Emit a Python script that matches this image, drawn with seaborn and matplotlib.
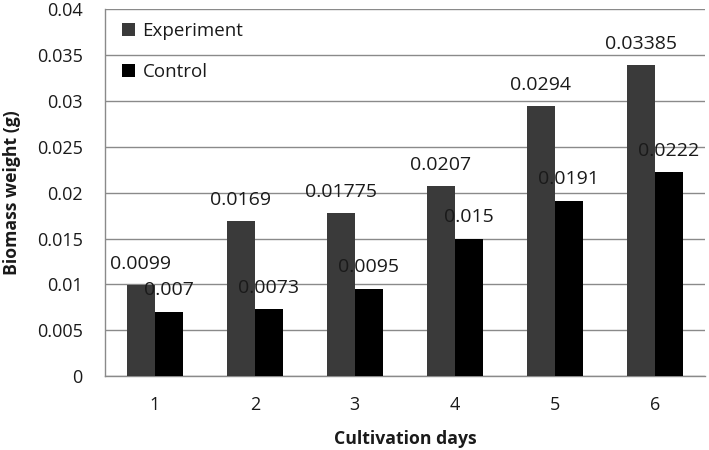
import numpy as np
import pandas as pd
import matplotlib
matplotlib.use("Agg")
import matplotlib.pyplot as plt
import seaborn as sns
from matplotlib.ticker import FixedLocator, FuncFormatter

# Values
days = ["1", "2", "3", "4", "5", "6"]
experiment = [0.0099, 0.0169, 0.01775, 0.0207, 0.0294, 0.03385]
control = [0.007, 0.0073, 0.0095, 0.015, 0.0191, 0.0222]
groups = ["Experiment", "Control"]
y_ticks = [0, 0.005, 0.01, 0.015, 0.02, 0.025, 0.03, 0.035, 0.04]

df = pd.DataFrame({
    "day": days * 2,
    "weight": experiment + control,
    "group": [groups[0]] * len(days) + [groups[1]] * len(days),
})

sns.set_style("white")
plt.rcParams["font.family"] = ["Open Sans", "DejaVu Sans"]
txt = "#1a1a1a"

fig = plt.figure(figsize=(7.09, 4.5), dpi=100)
ax = fig.add_axes([0.148, 0.164, 0.846, 0.816])

sns.barplot(data=df, x="day", y="weight", hue="group", hue_order=groups,
            palette=["#3a3a3a", "#000000"], width=0.56, gap=0,
            saturation=1, edgecolor="none", ax=ax, zorder=3)

for cont in ax.containers:
    ax.bar_label(cont, fmt="{:g}", padding=9, fontsize=14, color=txt)

ax.set_ylim(0, 0.04)
ax.set_xlim(-0.5, len(days) - 0.5)
ax.yaxis.set_major_locator(FixedLocator(y_ticks))
ax.yaxis.set_major_formatter(FuncFormatter(lambda v, p: f"{v:g}"))
ax.grid(axis="y", color="#8a8a8a", linewidth=1, zorder=0)
ax.set_axisbelow(True)

# ticks between categories on the x axis
ax.set_xticks(np.arange(-0.5, len(days)), minor=True)
ax.tick_params(axis="x", which="minor", length=5, color="#8a8a8a", width=1, direction="out")
ax.tick_params(axis="x", which="major", length=0, pad=14, labelsize=13, labelcolor=txt)
ax.tick_params(axis="y", length=5, color="#8a8a8a", width=1, direction="out",
               labelsize=13, pad=11, labelcolor=txt)

for side in ["top", "right"]:
    ax.spines[side].set_visible(False)
for side in ["left", "bottom"]:
    ax.spines[side].set_color("#8a8a8a")
    ax.spines[side].set_linewidth(1)

ax.set_xlabel("Cultivation days", fontsize=12.7, fontweight="bold", color=txt)
ax.xaxis.set_label_coords(0.5, -0.147)
ax.set_ylabel("Biomass weight (g)", fontsize=12.7, fontweight="bold", color=txt)
ax.yaxis.set_label_coords(-0.14, 0.5)

leg = ax.legend(loc="upper left", bbox_to_anchor=(0.0, 1.01), frameon=False,
                fontsize=13.5, handlelength=0.7, handleheight=0.7,
                handletextpad=0.4, labelspacing=1.2)
for t in leg.get_texts():
    t.set_color(txt)

fig.savefig("out.png", dpi=100)
